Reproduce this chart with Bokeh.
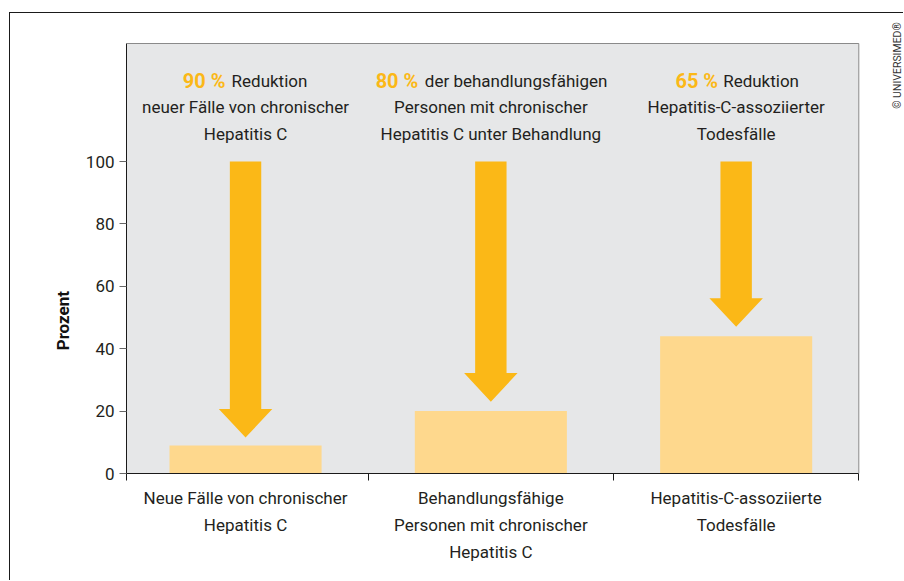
import math
from bokeh.plotting import figure
from bokeh.models import Range1d, FixedTicker, LinearAxis, Label
from bokeh.core.properties import value
from bokeh.embed import file_html
from bokeh.resources import INLINE

# ---- data ----
categories = [
    "Neue Fälle von chronischer\nHepatitis C",
    "Behandlungsfähige\nPersonen mit chronischer\nHepatitis C",
    "Hepatitis-C-assoziierte\nTodesfälle",
]
bar_values = [9, 20, 44]
arrow_start = [100, 100, 100]
arrow_end = [11.5, 23, 47]
target_pct = ["90 %", "80 %", "65 %"]
target_line1 = ["Reduktion", "der behandlungsfähigen", "Reduktion"]
target_line2 = ["neuer Fälle von chronischer", "Personen mit chronischer", "Hepatitis-C-assoziierter"]
target_line3 = ["Hepatitis C", "Hepatitis C unter Behandlung", "Todesfälle"]
y_ticks = [0, 20, 40, 60, 80, 100]
y_label = "Prozent"
copyright_text = "© UNIVERSIMED®"

# ---- layout constants (page pixels) ----
MX, MY = 9, 12           # outer margin of the framed figure
OX, OY = MX + 1, MY + 1  # page offset of canvas (margin + border)
W, H = 894, 568
AXIS_X_PAGE = 126        # y axis line
ZERO_X_PAGE = 122.4      # where category 0 starts
PX_PER_CAT = 245.3
FRAME_T_PAGE = 14        # frame is enlarged so that the copyright can live inside it
PLOT_T_PAGE = 43         # top of grey plot box
FRAME_B_PAGE = 473
FRAME_R_PAGE = OX + W
PX_PER_UNIT = 3.12
FONT = "Roboto"
DARK = "#231f20"
ORANGE = "#fbb817"
LIGHT = "#fed88d"
BG = "#e6e7e8"
YLABEL_POS = 49          # y (data) at which the rotated axis title is centred

def x_of_px(px):
    return (px - ZERO_X_PAGE) / PX_PER_CAT

def y_of_px(py):
    return (FRAME_B_PAGE - py) / PX_PER_UNIT

n = len(categories)
X0, X1 = x_of_px(AXIS_X_PAGE), x_of_px(FRAME_R_PAGE)
Y_TOP, Y_END = y_of_px(PLOT_T_PAGE), y_of_px(FRAME_T_PAGE)
FL, FT = AXIS_X_PAGE - OX, FRAME_T_PAGE - OY
FW, FH = FRAME_R_PAGE - AXIS_X_PAGE, FRAME_B_PAGE - FRAME_T_PAGE

centers = [i + 0.5 for i in range(n)]

p = figure(width=W, height=H, x_range=Range1d(X0, X1), y_range=Range1d(0, Y_END),
           output_backend="svg", toolbar_location=None,
           min_border_left=FL, min_border_right=0,
           min_border_top=FT, min_border_bottom=H - FT - FH)
p.styles = {"border-top": "1px solid #1a1a1a", "border-left": "1px solid #1a1a1a",
            "margin-top": f"{MY}px", "margin-left": f"{MX}px"}
p.background_fill_color = "white"
p.border_fill_color = "white"
p.outline_line_color = None
p.grid.visible = False

# grey plot box with its thin top/right outline
p.quad(left=[X0], right=[n], bottom=[0], top=[Y_TOP], color=BG, line_color=None)
p.line(x=[X0, n, n], y=[Y_TOP, Y_TOP, 0], line_color="#8a8a8a", line_width=1)

# bars
p.vbar(x=centers, top=bar_values, width=0.62, color=LIGHT, line_color=None)

# arrows
shaft_hw = 0.064
head_hw = 0.109
head_len = 9.2
xs, ys = [], []
for c, s, e in zip(centers, arrow_start, arrow_end):
    hb = e + head_len
    xs.append([c - shaft_hw, c + shaft_hw, c + shaft_hw, c + head_hw, c, c - head_hw, c - shaft_hw])
    ys.append([s, s, hb, hb, e, hb, hb])
p.patches(xs, ys, color=ORANGE, line_color=None)

# annotation texts
y1, y2, y3 = y_of_px(80), y_of_px(106.7), y_of_px(133.3)
pct_right = [-20, -72.5, -18]
txt_left = [-14, -66, -13]
for c, pct, l1, l2, l3, pr, tl in zip(centers, target_pct, target_line1, target_line2, target_line3, pct_right, txt_left):
    p.text(x=[c], y=[y1], text=[pct], x_offset=pr, text_align="right", text_baseline="middle",
           text_font=value(FONT), text_font_size="20px", text_font_style="bold", text_color=ORANGE)
    p.text(x=[c], y=[y1], text=[l1], x_offset=tl, text_align="left", text_baseline="middle",
           text_font=value(FONT), text_font_size="17px", text_color=DARK)
    p.text(x=[c, c], y=[y2, y3], text=[l2, l3], text_align="center", text_baseline="middle",
           text_font=value(FONT), text_font_size="17px", text_color=DARK)

# y axis
ya = p.yaxis[0]
ya.ticker = FixedTicker(ticks=y_ticks, minor_ticks=[])
ya.bounds = (0, Y_TOP)
ya.major_label_text_font = FONT
ya.major_label_text_font_size = "17px"
ya.major_label_text_color = DARK
ya.major_tick_out = 7
ya.major_tick_in = 0
ya.major_tick_line_color = "#666666"
ya.axis_line_color = "#1a1a1a"
ya.major_label_standoff = 5

# y axis title (own axis so it can sit centred on the 0-100 part)
ta = LinearAxis(ticker=FixedTicker(ticks=[YLABEL_POS], minor_ticks=[]),
                major_label_overrides={YLABEL_POS: y_label},
                major_label_orientation="vertical", major_label_standoff=9,
                major_label_text_font=FONT, major_label_text_font_size="17px",
                major_label_text_font_style="bold", major_label_text_color="#111111",
                major_tick_line_color=None, major_tick_out=0, major_tick_in=0,
                minor_tick_line_color=None, axis_line_color=None)
p.add_layout(ta, "left")

# x axis
xa = p.xaxis[0]
xa.ticker = FixedTicker(ticks=centers, minor_ticks=[X0] + list(range(1, n + 1)))
xa.bounds = (X0, n)
xa.major_label_overrides = {c: lab for c, lab in zip(centers, categories)}
xa.major_tick_line_color = None
xa.major_tick_out = 0
xa.major_tick_in = 0
xa.minor_tick_out = 7
xa.minor_tick_in = 0
xa.minor_tick_line_color = "#1a1a1a"
xa.axis_line_color = "#1a1a1a"
xa.major_label_text_font = FONT
xa.major_label_text_font_size = "17px"
xa.major_label_text_color = DARK
xa.major_label_text_line_height = 1.35
xa.major_label_standoff = 7

# copyright (inside the enlarged frame, right of the grey box)
p.add_layout(Label(x=x_of_px(897), y=y_of_px(65), text=copyright_text, angle=math.pi / 2,
                   text_align="center", text_baseline="middle",
                   text_font=FONT, text_font_size="10.5px", text_color="#333333"))

open("out.html", "w").write(file_html(p, INLINE))
